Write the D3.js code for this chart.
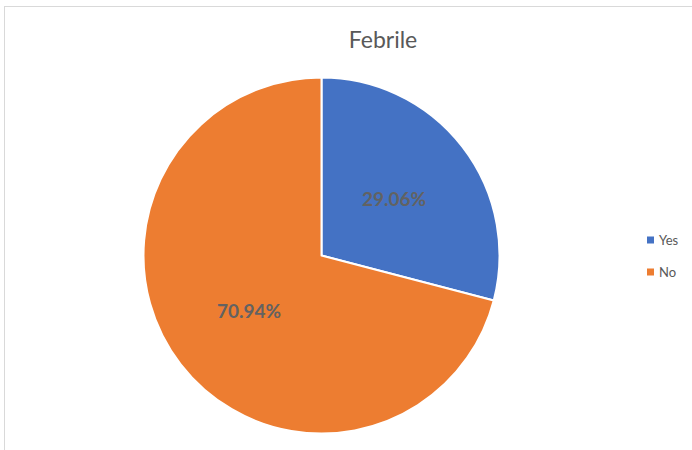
<!DOCTYPE html>
<html>
<head>
<meta charset="utf-8">
<script src="https://cdn.jsdelivr.net/npm/d3@7"></script>
<style>
  body { margin: 0; background: #fff; }
  svg { display: block; }
</style>
</head>
<body>
<script>
const width = 692, height = 450;

const categories = ['Yes', 'No'];
const values = [29.06, 70.94];
const colors = ['#4472c4', '#ed7d31'];
const title = 'Febrile';

const svg = d3.select('body').append('svg')
    .attr('width', width)
    .attr('height', height)
    .attr('font-family', 'Lato, "Open Sans", sans-serif');

// chart frame (only top/left visible in the reference)
svg.append('rect')
    .attr('x', 4.5)
    .attr('y', 6.5)
    .attr('width', width + 10)
    .attr('height', height + 10)
    .attr('fill', '#fff')
    .attr('stroke', '#d9d9d9')
    .attr('stroke-width', 1);

svg.append('text')
    .attr('x', 383)
    .attr('y', 48)
    .attr('text-anchor', 'middle')
    .attr('font-size', 23)
    .attr('fill', '#595959')
    .text(title);

const cx = 321.5, cy = 255.5, radius = 178;

const pie = d3.pie().sort(null).value(d => d.value);
const arcs = pie(categories.map((c, i) => ({ name: c, value: values[i], color: colors[i] })));
const arc = d3.arc().innerRadius(0).outerRadius(radius);
const labelArc = d3.arc().innerRadius(0).outerRadius(radius * 1.03);

const g = svg.append('g').attr('transform', `translate(${cx},${cy})`);

g.selectAll('path')
    .data(arcs)
    .join('path')
    .attr('d', arc)
    .attr('fill', d => d.data.color)
    .attr('stroke', '#fff')
    .attr('stroke-width', 2)
    .attr('stroke-linejoin', 'round');

g.selectAll('text')
    .data(arcs)
    .join('text')
    .attr('transform', d => `translate(${labelArc.centroid(d)})`)
    .attr('text-anchor', 'middle')
    .attr('dy', '0.35em')
    .attr('font-size', 19)
    .attr('font-weight', 'bold')
    .attr('fill', '#626262')
    .text(d => d.data.value.toFixed(2) + '%');

// legend
const legend = svg.append('g')
    .selectAll('g')
    .data(categories)
    .join('g')
    .attr('transform', (d, i) => `translate(647,${240 + i * 32})`);

legend.append('rect')
    .attr('x', 0)
    .attr('y', -3.5)
    .attr('width', 7)
    .attr('height', 7)
    .attr('fill', (d, i) => colors[i]);

legend.append('text')
    .attr('x', 12)
    .attr('dy', '0.35em')
    .attr('font-size', 13)
    .attr('fill', '#595959')
    .text(d => d);
</script>
</body>
</html>
